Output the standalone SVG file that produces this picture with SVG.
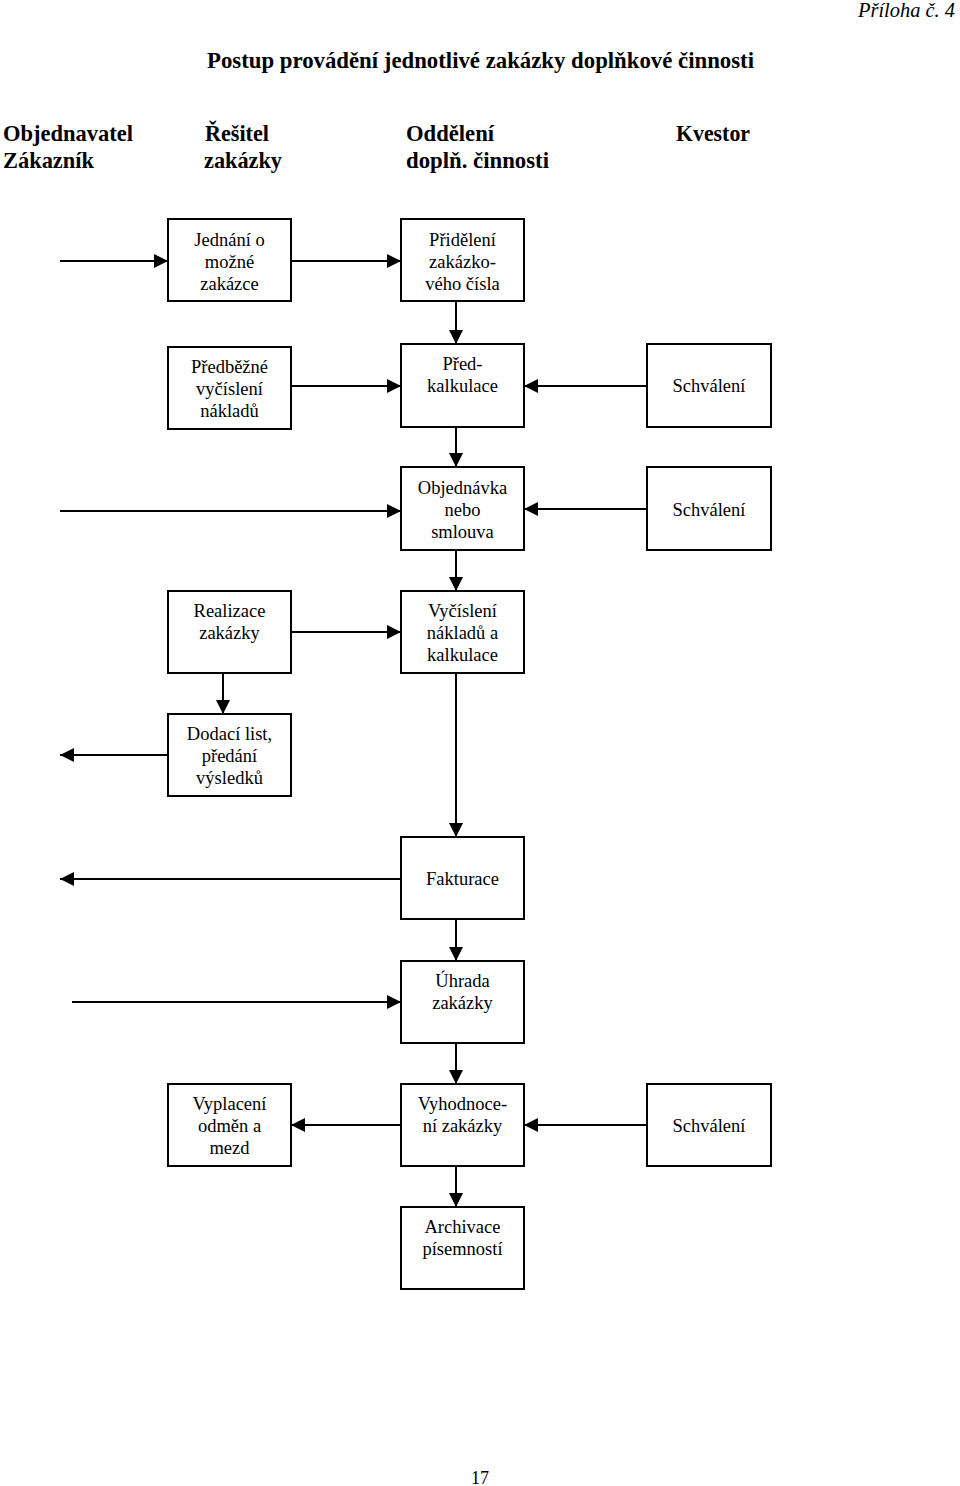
<svg xmlns="http://www.w3.org/2000/svg" width="960" height="1486" viewBox="0 0 960 1486">
<defs>
<marker id="ah" viewBox="0 0 14 14" refX="14" refY="7" markerWidth="14" markerHeight="14" markerUnits="userSpaceOnUse" orient="auto">
<path d="M0,0 L14,7 L0,14 Z" fill="#000"/>
</marker>
</defs>
<style>
.box{fill:#fff;stroke:#000;stroke-width:2}
.t{font-family:"Liberation Serif","Times New Roman",serif;font-size:18.5px;text-anchor:middle;fill:#000}
.h{font-family:"Liberation Serif","Times New Roman",serif;font-size:24px;font-weight:bold;fill:#000}
.c line{stroke:#000;stroke-width:2;marker-end:url(#ah)}
</style>
<rect width="960" height="1486" fill="#fff"/>
<text x="955" y="17" font-family="Liberation Serif,serif" font-style="italic" font-size="21" text-anchor="end" textLength="97" lengthAdjust="spacingAndGlyphs">Příloha č. 4</text>
<text class="h" x="207" y="68" textLength="547" lengthAdjust="spacingAndGlyphs">Postup provádění jednotlivé zakázky doplňkové činnosti</text>
<g id="headers">
<text class="h" x="3" y="141" textLength="130" lengthAdjust="spacingAndGlyphs">Objednavatel</text>
<text class="h" x="3" y="168" textLength="91" lengthAdjust="spacingAndGlyphs">Zákazník</text>
<text class="h" x="205" y="141" textLength="64" lengthAdjust="spacingAndGlyphs">Řešitel</text>
<text class="h" x="204" y="168" textLength="78" lengthAdjust="spacingAndGlyphs">zakázky</text>
<text class="h" x="406" y="141" textLength="88" lengthAdjust="spacingAndGlyphs">Oddělení</text>
<text class="h" x="406" y="168" textLength="143" lengthAdjust="spacingAndGlyphs">doplň. činnosti</text>
<text class="h" x="676" y="141" textLength="74" lengthAdjust="spacingAndGlyphs">Kvestor</text>
</g>
<g class="c" id="connectors">
<line x1="60" y1="261" x2="168" y2="261"/>
<line x1="291" y1="261" x2="401" y2="261"/>
<line x1="456" y1="301" x2="456" y2="344"/>
<line x1="291" y1="386" x2="401" y2="386"/>
<line x1="647" y1="386" x2="524" y2="386"/>
<line x1="456" y1="427" x2="456" y2="467"/>
<line x1="60" y1="511" x2="401" y2="511"/>
<line x1="647" y1="509" x2="524" y2="509"/>
<line x1="456" y1="550" x2="456" y2="591"/>
<line x1="291" y1="632" x2="401" y2="632"/>
<line x1="223" y1="673" x2="223" y2="714"/>
<line x1="168" y1="755" x2="60" y2="755"/>
<line x1="456" y1="673" x2="456" y2="837"/>
<line x1="401" y1="879" x2="60" y2="879"/>
<line x1="456" y1="919" x2="456" y2="961"/>
<line x1="72" y1="1002" x2="401" y2="1002"/>
<line x1="456" y1="1043" x2="456" y2="1084"/>
<line x1="401" y1="1125" x2="291" y2="1125"/>
<line x1="647" y1="1125" x2="524" y2="1125"/>
<line x1="456" y1="1166" x2="456" y2="1207"/>
</g>
<g id="n_jednani"><rect class="box" x="168" y="219" width="123" height="82"/>
<text class="t" x="229.5" y="246">Jednání o</text><text class="t" x="229.5" y="268">možné</text><text class="t" x="229.5" y="290">zakázce</text></g>
<g id="n_prideleni"><rect class="box" x="401" y="219" width="123" height="82"/>
<text class="t" x="462.5" y="246">Přidělení</text><text class="t" x="462.5" y="268">zakázko-</text><text class="t" x="462.5" y="290">vého čísla</text></g>
<g id="n_predbezne"><rect class="box" x="168" y="347" width="123" height="82"/>
<text class="t" x="229.5" y="373">Předběžné</text><text class="t" x="229.5" y="395">vyčíslení</text><text class="t" x="229.5" y="417">nákladů</text></g>
<g id="n_predkalkulace"><rect class="box" x="401" y="344" width="123" height="83"/>
<text class="t" x="462.5" y="370">Před-</text><text class="t" x="462.5" y="392">kalkulace</text></g>
<g id="n_schvaleni1"><rect class="box" x="647" y="344" width="124" height="83"/>
<text class="t" x="709" y="392">Schválení</text></g>
<g id="n_objednavka"><rect class="box" x="401" y="467" width="123" height="83"/>
<text class="t" x="462.5" y="494">Objednávka</text><text class="t" x="462.5" y="516">nebo</text><text class="t" x="462.5" y="538">smlouva</text></g>
<g id="n_schvaleni2"><rect class="box" x="647" y="467" width="124" height="83"/>
<text class="t" x="709" y="516">Schválení</text></g>
<g id="n_realizace"><rect class="box" x="168" y="591" width="123" height="82"/>
<text class="t" x="229.5" y="617">Realizace</text><text class="t" x="229.5" y="639">zakázky</text></g>
<g id="n_vycisleni"><rect class="box" x="401" y="591" width="123" height="82"/>
<text class="t" x="462.5" y="617">Vyčíslení</text><text class="t" x="462.5" y="639">nákladů a</text><text class="t" x="462.5" y="661">kalkulace</text></g>
<g id="n_dodaci"><rect class="box" x="168" y="714" width="123" height="82"/>
<text class="t" x="229.5" y="740">Dodací list,</text><text class="t" x="229.5" y="762">předání</text><text class="t" x="229.5" y="784">výsledků</text></g>
<g id="n_fakturace"><rect class="box" x="401" y="837" width="123" height="82"/>
<text class="t" x="462.5" y="885">Fakturace</text></g>
<g id="n_uhrada"><rect class="box" x="401" y="961" width="123" height="82"/>
<text class="t" x="462.5" y="987">Úhrada</text><text class="t" x="462.5" y="1009">zakázky</text></g>
<g id="n_vyplaceni"><rect class="box" x="168" y="1084" width="123" height="82"/>
<text class="t" x="229.5" y="1110">Vyplacení</text><text class="t" x="229.5" y="1132">odměn a</text><text class="t" x="229.5" y="1154">mezd</text></g>
<g id="n_vyhodnoceni"><rect class="box" x="401" y="1084" width="123" height="82"/>
<text class="t" x="462.5" y="1110">Vyhodnoce-</text><text class="t" x="462.5" y="1132">ní zakázky</text></g>
<g id="n_schvaleni3"><rect class="box" x="647" y="1084" width="124" height="82"/>
<text class="t" x="709" y="1132">Schválení</text></g>
<g id="n_archivace"><rect class="box" x="401" y="1207" width="123" height="82"/>
<text class="t" x="462.5" y="1233">Archivace</text><text class="t" x="462.5" y="1255">písemností</text></g>
<text x="480" y="1484" font-family="Liberation Serif,serif" font-size="18" text-anchor="middle">17</text>
</svg>
